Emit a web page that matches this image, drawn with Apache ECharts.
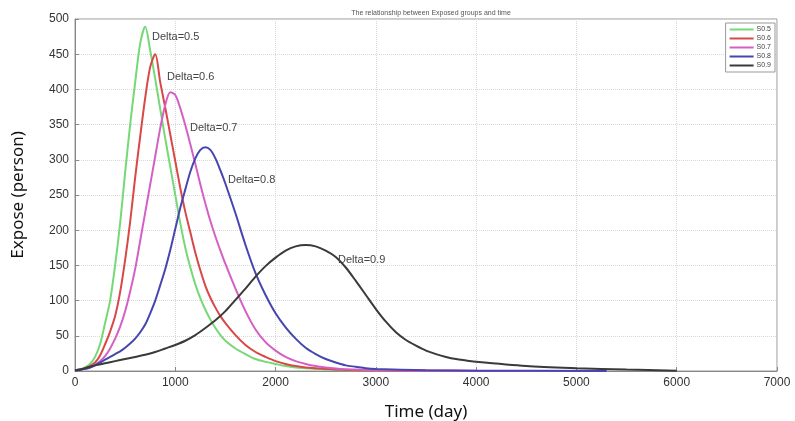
<!DOCTYPE html>
<html>
<head>
<meta charset="utf-8">
<title>Exposed groups and time</title>
<script src="https://cdn.jsdelivr.net/npm/echarts@6/dist/echarts.min.js"></script>
<style>
  html, body { margin: 0; padding: 0; background: #fff; }
  #chart { width: 795px; height: 421px; }
</style>
</head>
<body>
<div id="chart"></div>
<script>
// series names (legend)
var seriesNames = ['S0.5', 'S0.6', 'S0.7', 'S0.8', 'S0.9'];

// day grid for the four early curves
var daysFine = [0, 50, 100, 150, 200, 250, 300, 350, 400, 450, 500, 550, 600, 650, 700, 750, 800, 850, 900, 950,
  1000, 1050, 1100, 1150, 1200, 1250, 1300, 1350, 1400, 1450, 1500,
  1600, 1700, 1800, 1900, 2000, 2100, 2200, 2300, 2400, 2500, 2600, 2700, 2800, 2900, 3000, 3500, 4000, 5300];

// values (person)
var valsS05 = [1, 2, 5, 10, 20, 38, 68, 100, 150, 210, 282, 350, 410, 465, 489, 455, 415, 372, 330, 290,
  250, 210, 175, 147, 123, 103, 87, 73, 61, 51, 43,
  32, 24, 17, 13, 10, 7, 5, 4, 3, 2, 1.5, 1, 0.8, 0.6, 0.5, 0.2, 0.1, 0];
var valsS06 = [1, 2, 4, 7, 12, 22, 38, 56, 78, 112, 158, 212, 275, 333, 388, 432, 450, 410, 374, 336,
  298, 260, 226, 197, 168, 143, 121, 104, 90, 78, 68,
  51, 37, 27, 20, 14, 10, 7, 5, 4, 3, 2, 1.5, 1, 0.8, 0.6, 0.3, 0.1, 0];
var valsS07 = [1, 2, 3, 5, 9, 14, 21, 32, 46, 63, 85, 113, 145, 185, 225, 265, 305, 345, 378, 396,
  392, 373, 349, 322, 294, 265, 238, 213, 191, 171, 152,
  117, 85, 59, 41, 29, 20, 14, 10, 7, 5, 3.5, 2.5, 2, 1.5, 1.2, 0.5, 0.2, 0];
var valsS08 = [0.5, 1.5, 3, 5, 8, 12, 16, 20, 24, 28, 33, 39, 46, 55, 66, 82, 100, 122, 145, 172,
  202, 232, 258, 283, 302, 314, 318, 314, 302, 285, 266,
  224, 179, 139, 108, 82, 62, 46, 33, 24, 17, 12, 8, 6, 4, 3, 1, 0.5, 0];

// day grid for the late curve
var daysWide = [0, 100, 200, 300, 400, 500, 600, 700, 800, 900, 1000, 1100, 1200, 1300, 1400, 1500, 1600, 1700, 1800, 1900,
  2000, 2100, 2200, 2300, 2400, 2500, 2600, 2700, 2800, 2900, 3000, 3100, 3200, 3300, 3400, 3500, 3600, 3700, 3800, 3900,
  4000, 4500, 5000, 5500, 6000];
var valsS09 = [1, 4, 8, 11, 14, 17, 20, 23, 27, 32, 37, 43, 51, 61, 72, 85, 101, 117, 134, 149,
  161, 171, 177, 179, 177, 171, 162, 147, 128, 108, 88, 70, 55, 44, 36, 29, 24, 20, 17, 15,
  13, 7, 4, 2, 0.5];

// annotation anchors (day, value)
var deltaLabels = ['Delta=0.5', 'Delta=0.6', 'Delta=0.7', 'Delta=0.8', 'Delta=0.9'];
var deltaDays = [768, 917, 1147, 1525, 2622];
var deltaVals = [474, 418, 345, 271, 158];

var xTicks = [0, 1000, 2000, 3000, 4000, 5000, 6000, 7000];
var yTicks = [0, 50, 100, 150, 200, 250, 300, 350, 400, 450, 500];

var colors = ['#76d876', '#d84848', '#d460c6', '#4646b0', '#3a3a3a'];

var allDays = [daysFine, daysFine, daysFine, daysFine, daysWide];
var allVals = [valsS05, valsS06, valsS07, valsS08, valsS09];

function pairs(d, v) {
  var out = [];
  for (var i = 0; i < d.length; i++) out.push([d[i], v[i]]);
  return out;
}

var series = [];
for (var i = 0; i < seriesNames.length; i++) {
  series.push({
    name: seriesNames[i],
    type: 'line',
    smooth: 0.3,
    showSymbol: false,
    data: pairs(allDays[i], allVals[i]),
    lineStyle: { color: colors[i], width: 2 },
    itemStyle: { color: colors[i] },
    markPoint: {
      symbol: 'circle',
      symbolSize: 0,
      silent: true,
      data: [{
        coord: [deltaDays[i], deltaVals[i]],
        label: {
          show: true,
          position: 'right',
          distance: 0,
          formatter: deltaLabels[i],
          color: '#444',
          fontSize: 11,
          fontFamily: 'Liberation Sans'
        }
      }]
    }
  });
}

var myChart = echarts.init(document.getElementById('chart'));

var option = {
  animation: false,
  backgroundColor: '#fff',
  title: {
    text: 'The relationship between Exposed groups and time',
    left: 426,
    textAlign: 'center',
    top: 5,
    textStyle: { fontSize: 7, fontWeight: 'normal', color: '#555', fontFamily: 'Liberation Sans' }
  },
  grid: {
    left: 75, right: 18, top: 19, bottom: 50,
    outerBoundsMode: 'none',
    show: true, borderColor: '#999', borderWidth: 1
  },
  legend: {
    right: 20, top: 23,
    orient: 'vertical',
    itemWidth: 24, itemHeight: 2, itemGap: 2,
    padding: [3, 4, 3, 4],
    borderColor: '#999', borderWidth: 1,
    backgroundColor: '#fff',
    icon: 'rect',
    textStyle: { fontSize: 7, color: '#444', fontFamily: 'Liberation Sans', padding: [0, 0, 0, -2] },
    data: seriesNames
  },
  xAxis: {
    type: 'value',
    min: xTicks[0], max: xTicks[xTicks.length - 1], interval: 1000,
    name: 'Time (day)',
    nameLocation: 'middle',
    nameGap: 33,
    nameTextStyle: { fontSize: 17, color: '#111', fontFamily: 'Noto Sans' },
    axisLine: { lineStyle: { color: '#888' } },
    axisTick: { inside: true, length: 4, lineStyle: { color: '#888' } },
    axisLabel: {
      color: '#333', fontSize: 12, fontFamily: 'Liberation Sans', margin: 6,
      formatter: function (v) { return String(v); }
    },
    splitLine: { show: true, lineStyle: { color: '#d8d8d8', type: 'dotted' } }
  },
  yAxis: {
    type: 'value',
    min: yTicks[0], max: yTicks[yTicks.length - 1], interval: 50,
    name: 'Expose (person)',
    nameLocation: 'middle',
    nameGap: 48,
    nameTextStyle: { fontSize: 17, color: '#111', fontFamily: 'Noto Sans' },
    axisLine: { show: true, lineStyle: { color: '#888' } },
    axisTick: { show: true, inside: true, length: 4, lineStyle: { color: '#888' } },
    axisLabel: {
      color: '#333', fontSize: 12, fontFamily: 'Liberation Sans', margin: 6,
      formatter: function (v) { return String(v); }
    },
    splitLine: { show: true, lineStyle: { color: '#d8d8d8', type: 'dotted' } }
  },
  series: series
};

myChart.setOption(option);
</script>
</body>
</html>
